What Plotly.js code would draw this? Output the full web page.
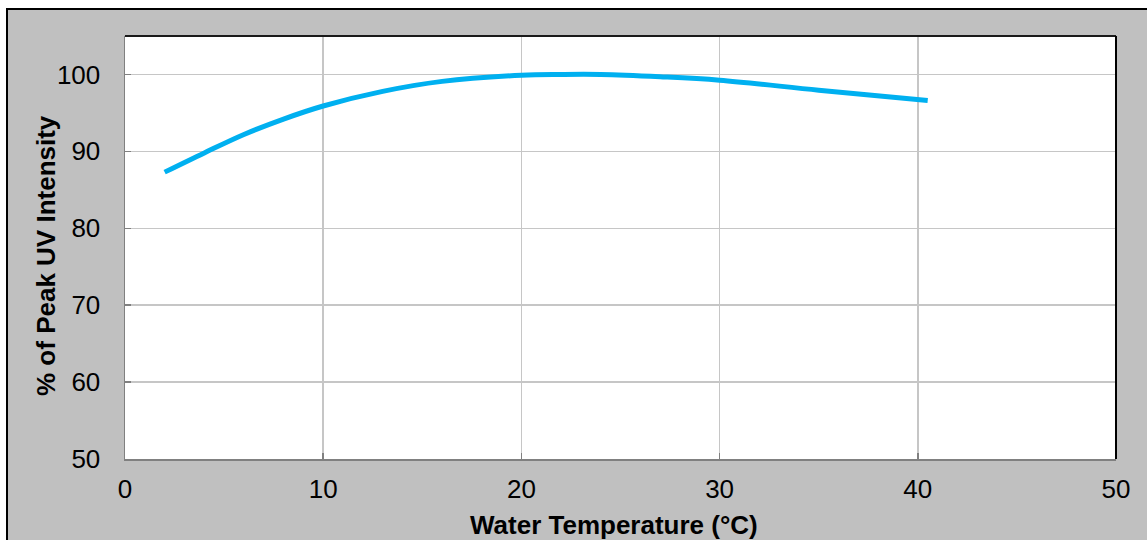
<!DOCTYPE html>
<html>
<head>
<meta charset="utf-8">
<script src="https://cdn.plot.ly/plotly-3.0.1.min.js"></script>
<style>
  html, body { margin: 0; padding: 0; background: #ffffff; }
  #frame { position: absolute; left: 6px; top: 8px; width: 1160px; height: 560px;
           background: #c0c0c0; border: 2px solid #000; box-sizing: border-box; }
  #chart { position: absolute; left: 0; top: 0; width: 1147px; height: 540px; }
</style>
</head>
<body>
<div id="frame"></div>
<div id="chart"></div>
<script>
// Water temperature (°C)
const temperature = [2, 4, 6, 8, 10, 13, 16, 20, 22, 24, 27, 30, 35, 40.5];
// % of peak UV intensity
const uvIntensity = [87.3, 89.8, 92.2, 94.2, 95.9, 97.8, 99.1, 99.9, 100.0, 100.0, 99.7, 99.25, 97.95, 96.6];

const xTicks = [0, 10, 20, 30, 40, 50];
const yTicks = [50, 60, 70, 80, 90, 100];

const xTitle = 'Water Temperature (°C)';
const yTitle = '% of Peak UV Intensity';

const fontFam = '"Liberation Sans", Arial, sans-serif';

const trace = {
  x: temperature,
  y: uvIntensity,
  type: 'scatter',
  mode: 'lines',
  line: { color: '#00b0f0', width: 5, shape: 'spline', smoothing: 1.0 },
  hoverinfo: 'x+y'
};

const layout = {
  width: 1147,
  height: 540,
  paper_bgcolor: 'rgba(0,0,0,0)',
  plot_bgcolor: '#ffffff',
  margin: { l: 125, r: 31, t: 36, b: 81, pad: 0 },
  showlegend: false,
  font: { family: fontFam, color: '#000000', size: 26 },
  xaxis: {
    range: [0, 50],
    tickvals: xTicks,
    ticktext: xTicks.map(String),
    showgrid: true,
    gridcolor: '#c6c6c6',
    gridwidth: 1.5,
    zeroline: false,
    showline: true,
    linecolor: '#808080',
    linewidth: 1.5,
    ticks: 'inside',
    ticklen: 6,
    tickcolor: '#808080',
    tickwidth: 1.5,
    ticklabelstandoff: 6,
    tickfont: { family: fontFam, size: 26, color: '#000000' }
  },
  yaxis: {
    range: [50, 105],
    tickvals: yTicks,
    ticktext: yTicks.map(String),
    showgrid: true,
    gridcolor: '#c6c6c6',
    gridwidth: 1.5,
    zeroline: false,
    showline: true,
    linecolor: '#808080',
    linewidth: 1.5,
    ticks: 'inside',
    ticklen: 6,
    tickcolor: '#808080',
    tickwidth: 1.5,
    ticklabelstandoff: 18,
    tickfont: { family: fontFam, size: 26, color: '#000000' }
  },
  annotations: [
    { text: xTitle, xref: 'paper', yref: 'paper', x: 0.493, y: -0.155, xanchor: 'center', yanchor: 'middle',
      showarrow: false, font: { family: fontFam, size: 26, color: '#000000', weight: 'bold' } },
    { text: yTitle, xref: 'paper', yref: 'paper', x: -0.0797, y: 0.48, xanchor: 'center', yanchor: 'middle',
      textangle: -90, showarrow: false, font: { family: fontFam, size: 26, color: '#000000', weight: 'bold' } }
  ],
  shapes: [
    { type: 'line', xref: 'paper', yref: 'paper', x0: 0, x1: 1, y0: 1, y1: 1, line: { color: '#1a1a1a', width: 2 } },
    { type: 'line', xref: 'paper', yref: 'paper', x0: 1, x1: 1, y0: 0, y1: 1, line: { color: '#000000', width: 2 } }
  ]
};

Plotly.newPlot('chart', [trace], layout, { displayModeBar: false, staticPlot: true });
</script>
</body>
</html>
